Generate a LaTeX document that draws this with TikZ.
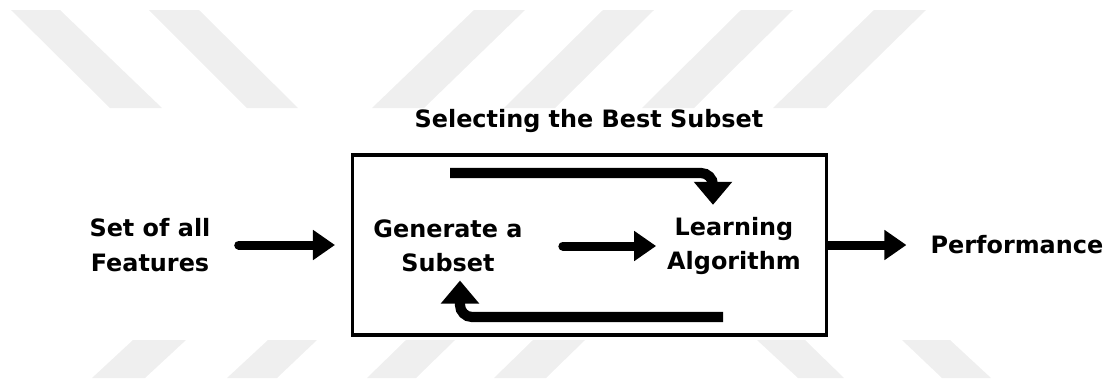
\documentclass[tikz,border=0pt]{standalone}
\usepackage{fontspec}
\setmainfont{DejaVu Sans}
\usetikzlibrary{arrows.meta,calc}
\definecolor{stripegray}{HTML}{EFEFEF}

\begin{document}
\begin{tikzpicture}[x=0.025cm, y=-0.025cm, every node/.style={font=\fontsize{17}{24.5}\selectfont\bfseries}]
\tikzstyle{textbox} = [inner sep=0pt, align=center]
\tikzstyle{frame} = [rectangle, draw=black, line width=2.2pt, minimum width=11.825cm, minimum height=4.5cm]
\tikzstyle{stripe} = [fill=stripegray]
\tikzstyle{arrow} = [line width=6.4pt, line cap=round, -{Triangle[length=0.55cm, width=0.72cm]}]
\tikzstyle{bigarrow} = [line width=7.2pt, rounded corners=0.3cm, -{Triangle[length=0.575cm, width=0.925cm]}]

\useasboundingbox (0,0) rectangle (1107,378);

% Background stripes
\fill[stripe] (11,10) -- (60,10) -- (162,108) -- (110,108) -- cycle;
\fill[stripe] (149,10) -- (199,10) -- (298,108) -- (247,108) -- cycle;
\fill[stripe] (474,10) -- (525,10) -- (424,108) -- (372,108) -- cycle;
\fill[stripe] (603,10) -- (654,10) -- (555,108) -- (504,108) -- cycle;
\fill[stripe] (741,10) -- (793,10) -- (694,108) -- (642,108) -- cycle;
\fill[stripe] (874,10) -- (926,10) -- (826,108) -- (773,108) -- cycle;
\fill[stripe] (133,340) -- (186,340) -- (145,378) -- (92,378) -- cycle;
\fill[stripe] (268,340) -- (317,340) -- (277,378) -- (227,378) -- cycle;
\fill[stripe] (406,340) -- (455,340) -- (416,378) -- (367,378) -- cycle;
\fill[stripe] (533,340) -- (585,340) -- (546,378) -- (494,378) -- cycle;
\fill[stripe] (757,340) -- (805,340) -- (844,378) -- (798,378) -- cycle;
\fill[stripe] (902,340) -- (950,340) -- (991,378) -- (942,378) -- cycle;

% Nodes
\node (box) [frame] at (589.5,245) {};
\node (title) [textbox] at (589,121) {Selecting the Best Subset};
\node (feat) [textbox] at (150,245) {Set of all\\Features};
\node (gen) [textbox] at (448,246) {Generate a\\Subset};
\node (learn) [textbox] at (734,246) {Learning\\Algorithm};
\node (perf) [textbox] at (1017,245) {Performance};
\coordinate (loopstart) at (450,173);
\coordinate (backstart) at (723,317);

% Arrows
\draw [arrow, shorten <=0.7cm, shorten >=0.41cm] (feat.east) -- (box.west);
\draw [arrow, shorten <=1cm, shorten >=0.27cm] (gen.east) -- (gen.east -| learn.west);
\draw [arrow, line cap=butt, shorten >=0.6cm] (box.east) -- (perf.west);
\draw [bigarrow] (loopstart) -| ($(learn.north)+(-21,-12)$);
\draw [bigarrow] (backstart) -| ($(gen.south)+(12,8)$);
\end{tikzpicture}
\end{document}
